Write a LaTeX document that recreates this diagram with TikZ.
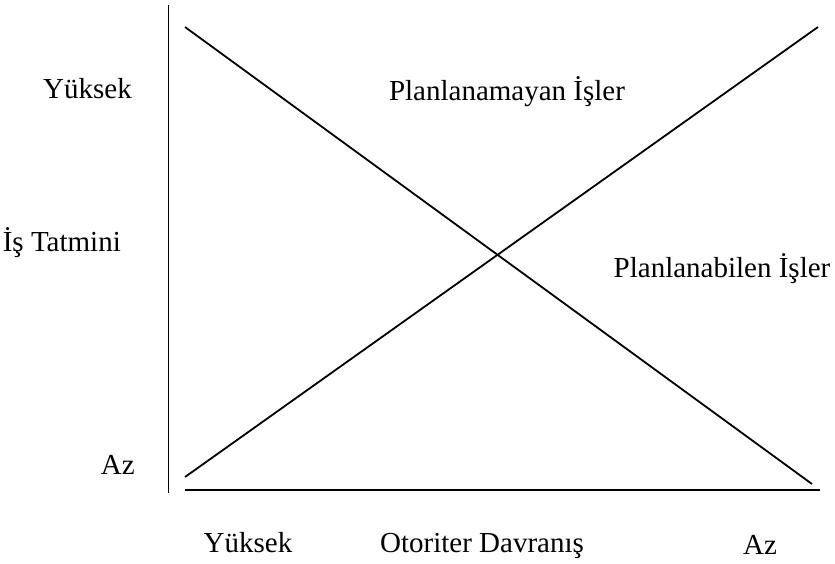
\documentclass[tikz,border=0pt]{standalone}
\usepackage{fontspec}
\setmainfont{Liberation Serif}
\begin{document}
\begin{tikzpicture}[x=1pt,y=-1pt,
  axis/.style={line width=1.8pt,black},
  curve/.style={line width=1.8pt,black},
  lbl/.style={inner sep=0pt,font=\fontsize{29}{34}\selectfont}]
\useasboundingbox (0,0) rectangle (835,563);
% axes
\coordinate (vtop) at (168.5,5);
\coordinate (vbot) at (168.5,493);
\coordinate (hl) at (185,490);
\coordinate (hr) at (820,490);
\draw[axis] (vtop) -- (vbot);
\draw[axis] (hl) -- (hr);
% lines
\coordinate (d1) at (185,27);
\coordinate (d2) at (812,484);
\coordinate (a1) at (185,477);
\coordinate (a2) at (818,27);
\draw[curve] (d1) -- (d2);
\draw[curve] (a1) -- (a2);
% labels
\node[lbl,anchor=base east] (yhigh) at (132,98) {Yüksek};
\node[lbl,anchor=base east] (ytitle) at (121,251) {İş Tatmini};
\node[lbl,anchor=base east] (ylow) at (135,474) {Az};
\node[lbl,anchor=base] (unplan) at (507,100) {Planlanamayan İşler};
\node[lbl,anchor=base] (plan) at (722,277) {Planlanabilen İşler};
\node[lbl,anchor=base] (xhigh) at (248,552) {Yüksek};
\node[lbl,anchor=base] (xtitle) at (482,552) {Otoriter Davranış};
\node[lbl,anchor=base] (xlow) at (760,554) {Az};
\end{tikzpicture}
\end{document}
